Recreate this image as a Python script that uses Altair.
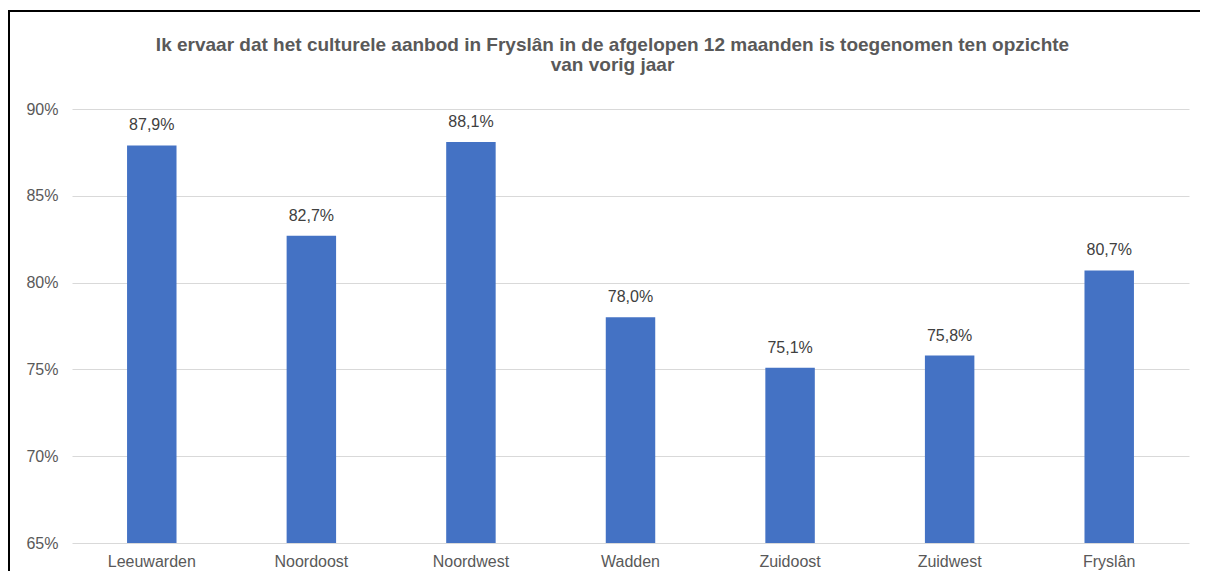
import altair as alt
import pandas as pd

regions = ["Leeuwarden", "Noordoost", "Noordwest", "Wadden", "Zuidoost", "Zuidwest", "Fryslân"]
values = [87.9, 82.7, 88.1, 78.0, 75.1, 75.8, 80.7]
y_ticks = [65, 70, 75, 80, 85, 90]
title_lines = ["Ik ervaar dat het culturele aanbod in Fryslân in de afgelopen 12 maanden is toegenomen ten opzichte",
               "van vorig jaar"]

df = pd.DataFrame({"regio": regions, "waarde": values})

FONT = "Liberation Sans"
W, H = 1117, 434

x = alt.X("regio:N", sort=regions, title=None,
          scale=alt.Scale(paddingInner=0.69, paddingOuter=0.345),
          axis=alt.Axis(labelAngle=0, domain=False, ticks=False, labelPadding=10,
                        labelFontSize=16, labelColor="#595959", labelFont=FONT))
y = alt.Y("waarde:Q", title=None,
          scale=alt.Scale(domain=[65, 90], nice=False, zero=False, clamp=True),
          axis=alt.Axis(values=y_ticks, labelExpr="datum.value + '%'", domain=False, ticks=False,
                        labelPadding=14, labelFontSize=16, labelColor="#595959", labelFont=FONT,
                        gridColor="#D9D9D9", gridWidth=1))

bars = alt.Chart(df).mark_bar(color="#4472C4", clip=True).encode(x=x, y=y)

labels = alt.Chart(df).transform_calculate(
    lbl="replace(format(datum.waarde, '.1f'), '.', ',') + '%'"
).mark_text(font=FONT, fontSize=16, color="#404040", baseline="alphabetic", dy=-15).encode(
    x=alt.X("regio:N", sort=regions), y="waarde:Q", text="lbl:N")

one = pd.DataFrame({"a": [0]})
title = alt.Chart(one).mark_text(
    text=title_lines, font=FONT, fontSize=19, fontWeight="bold", color="#595959",
    align="center", baseline="alphabetic", lineHeight=20
).encode(x=alt.value(W / 2 - 18), y=alt.value(-58))

border_v = alt.Chart(one).mark_rule(color="black", strokeWidth=2).encode(
    x=alt.value(-63), y=alt.value(-98), y2=alt.value(H + 40))
border_h = alt.Chart(one).mark_rule(color="black", strokeWidth=2).encode(
    x=alt.value(-64), x2=alt.value(W + 20), y=alt.value(-98))

chart = alt.layer(bars, labels, title, border_v, border_h).properties(
    width=W, height=H,
    autosize=alt.AutoSizeParams(type="none"),
    padding={"left": 64, "top": 101, "right": 11, "bottom": 28},
).configure(background="white").configure_view(strokeWidth=0, stroke="transparent")

chart.save("out.html", embed_options={"renderer": "svg", "actions": False})
